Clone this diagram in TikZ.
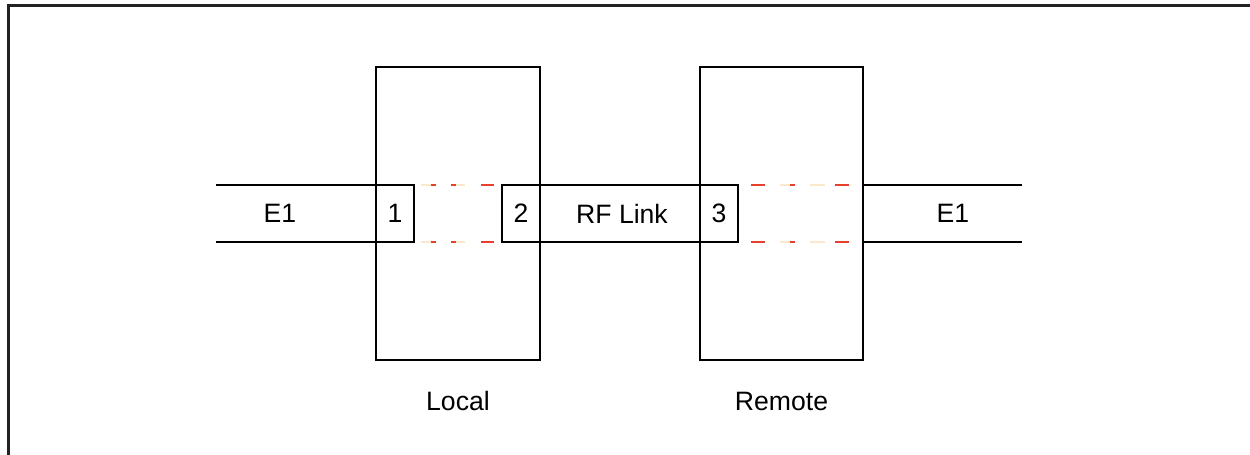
\documentclass[tikz,border=0pt]{standalone}
\usepackage{fontspec}
\setmainfont{Liberation Sans}
\definecolor{dred}{HTML}{E8402A}
\definecolor{dbeige}{HTML}{FCE9CC}
\definecolor{frame}{HTML}{222222}
\begin{document}
\begin{tikzpicture}[x=0.5pt,y=-0.5pt,
  unit/.style={draw=black,line width=1.1pt,inner sep=0pt,outer sep=0pt},
  bigbox/.style={unit,minimum width=82pt,minimum height=146.5pt},
  port/.style={unit,minimum width=19pt,minimum height=28.5pt,font=\fontsize{13.3}{16}\selectfont},
  lbl/.style={inner sep=0pt,font=\fontsize{13.3}{16}\selectfont},
  wire/.style={draw=black,line width=1.1pt},
  rd/.style={draw=dred,line width=1.4pt},
  bg/.style={draw=dbeige,line width=1.4pt}]
\useasboundingbox (0,0) rectangle (1250,455);
% frame (only top and left edges visible)
\draw[frame,line width=1.5pt] (8,460) -- (8,5) -- (1260,5);
% main boxes
\node[bigbox] (local) at (458,213.5) {};
\node[bigbox,minimum width=81.5pt] (remote) at (781.5,213.5) {};
% ports
\node[port] (p1) at (395,213.5) {1};
\node[port] (p2) at (521,213.5) {2};
\node[port] (p3) at (719,213.5) {3};
% wires
\coordinate (lt) at (216,185);
\coordinate (lb) at (216,242);
\coordinate (rt) at (1022,185);
\coordinate (rb) at (1022,242);
\draw[wire] (lt) -- (p1.north west);
\draw[wire] (lb) -- (p1.south west);
\draw[wire] (p2.north east) -- (p3.north west);
\draw[wire] (p2.south east) -- (p3.south west);
\draw[wire] (remote.east |- rt) -- (rt);
\draw[wire] (remote.east |- rb) -- (rb);
% dashed inner links
\foreach \y in {185,242}{
  \draw[bg] (421,\y) -- (431,\y);
  \draw[rd] (431,\y) -- (436,\y);
  \draw[rd] (451,\y) -- (456,\y);
  \draw[bg] (456,\y) -- (465,\y);
  \draw[rd] (481,\y) -- (494,\y);
  \draw[rd] (751,\y) -- (765,\y);
  \draw[bg] (780,\y) -- (790,\y);
  \draw[rd] (790,\y) -- (795,\y);
  \draw[bg] (810,\y) -- (825,\y);
  \draw[rd] (835,\y) -- (849,\y);
}
% labels
\node[lbl] (e1a) at (280,213.5) {E1};
\node[lbl] (rf) at (622,213.5) {RF Link};
\node[lbl] (e1b) at (953,213.5) {E1};
\node[lbl] (loc) at (458,401) {Local};
\node[lbl] (rem) at (781.5,401) {Remote};
\end{tikzpicture}
\end{document}
